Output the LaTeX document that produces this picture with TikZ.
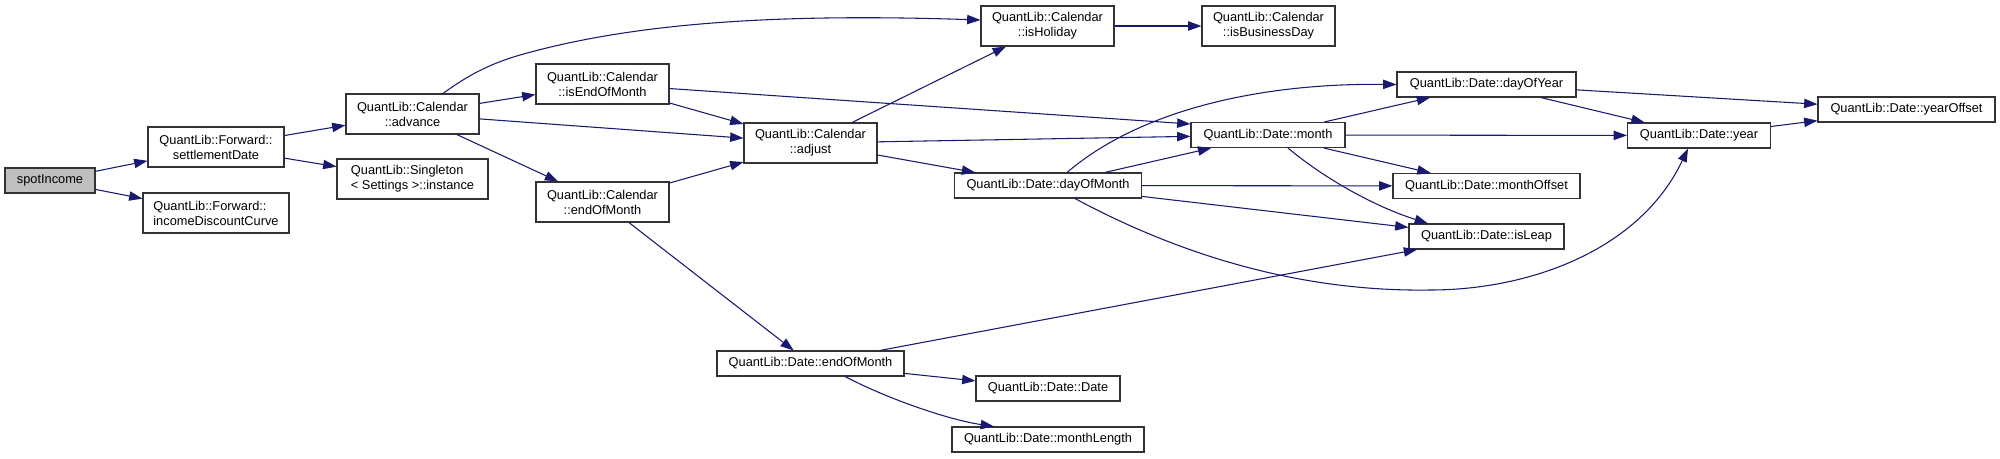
\documentclass[tikz,border=0pt]{standalone}
\usepackage{fontspec}
\setmainfont{Liberation Sans}
\usetikzlibrary{arrows.meta}
\definecolor{edgeblue}{HTML}{191970}
\definecolor{boxline}{HTML}{333333}
\definecolor{spotfill}{HTML}{BFBFBF}
\begin{document}
\begin{tikzpicture}[x=0.75pt,y=-0.75pt,
  box/.style={draw=boxline, line width=0.8pt, fill=white, inner sep=0pt,
    font=\fontsize{9.6}{11.25}\selectfont, align=center},
  wh/.style 2 args={minimum width=#1*0.75pt, minimum height=#2*0.75pt},
  call/.style={draw=edgeblue, line width=0.8pt, -{Triangle[length=10pt,width=7pt]}}]
\fill[white] (0,0) rectangle (2000,458);
\useasboundingbox (0,0) rectangle (2000,458);

\node[box, wh={90}{25}, fill=spotfill] (spot) at (50,180.5) {spotIncome};
\node[box, wh={136}{40}] (settle) at (216,147) {QuantLib::Forward::\\settlementDate};
\node[box, wh={146}{40}, align=left] (income) at (216,213) {QuantLib::Forward::\\incomeDiscountCurve};
\node[box, wh={133}{40}] (advance) at (412.5,114) {QuantLib::Calendar\\::advance};
\node[box, wh={151}{40}, align=left] (single) at (412.5,179) {QuantLib::Singleton\\< Settings >::instance};
\node[box, wh={133}{40}] (iseom) at (602.5,84) {QuantLib::Calendar\\::isEndOfMonth};
\node[box, wh={133}{40}] (caleom) at (602.5,202) {QuantLib::Calendar\\::endOfMonth};
\node[box, wh={133}{40}] (adjust) at (810.5,143) {QuantLib::Calendar\\::adjust};
\node[box, wh={133}{40}] (hol) at (1047.5,26) {QuantLib::Calendar\\::isHoliday};
\node[box, wh={133}{40}] (bday) at (1268.5,26) {QuantLib::Calendar\\::isBusinessDay};
\node[box, wh={154}{25}] (month) at (1268,135) {QuantLib::Date::month};
\node[box, wh={187}{25}] (dom) at (1048,185.5) {QuantLib::Date::dayOfMonth};
\node[box, wh={179}{25}] (doy) at (1486.5,84.5) {QuantLib::Date::dayOfYear};
\node[box, wh={187}{25}] (moff) at (1486.5,186) {QuantLib::Date::monthOffset};
\node[box, wh={155}{25}] (leap) at (1486.5,236.5) {QuantLib::Date::isLeap};
\node[box, wh={177}{25}] (yoff) at (1906.5,109.5) {QuantLib::Date::yearOffset};
\node[box, wh={143}{25}] (year) at (1699,135.5) {QuantLib::Date::year};
\node[box, wh={187}{25}] (deom) at (810.5,363.5) {QuantLib::Date::endOfMonth};
\node[box, wh={144}{25}] (date) at (1048,388.5) {QuantLib::Date::Date};
\node[box, wh={192}{25}] (mlen) at (1048,439.5) {QuantLib::Date::monthLength};

\draw[call] (spot) -- (settle);
\draw[call] (spot) -- (income);
\draw[call] (settle) -- (advance);
\draw[call] (settle) -- (single);
\draw[call] ([xshift=22.9pt]advance.north) .. controls (475,70) and (500,60) .. (531,52) .. controls (650,20) and (800,14) .. ([yshift=4.5pt]hol.west);
\draw[call] (advance) -- (iseom);
\draw[call] (advance) -- (adjust);
\draw[call] (advance) -- (caleom);
\draw[call] (iseom) -- (adjust);
\draw[call] (iseom) -- ([yshift=8.25pt]month.west);
\draw[call] (caleom) -- (adjust);
\draw[call] (caleom) -- (deom);
\draw[call] (adjust) -- (hol);
\draw[call] (adjust) -- (month);
\draw[call] (adjust) -- (dom);
\draw[call] (hol) -- (bday);
\draw[call] ([xshift=14.25pt]dom.north) .. controls (1140,110) and (1260,83) .. (doy.west);
\draw[call] (dom) -- (month);
\draw[call] (dom) -- (moff);
\draw[call] (dom) -- (leap);
\draw[call] ([xshift=20.25pt]dom.south) .. controls (1180,255) and (1300,292) .. (1430,290) .. controls (1530,290) and (1640,250) .. ([xshift=-8.25pt]year.south);
\draw[call] (month) -- (doy);
\draw[call] (month) -- (year);
\draw[call] (month) -- (moff);
\draw[call] ([xshift=15pt]month.south) .. controls (1320,175) and (1370,205) .. ([xshift=-43.9pt]leap.north);
\draw[call] (doy) -- (yoff);
\draw[call] (doy) -- (year);
\draw[call] (year) -- (yoff);
\draw[call] (deom) -- (leap);
\draw[call] (deom) -- (date);
\draw[call] ([xshift=25.9pt]deom.south) .. controls (890,400) and (950,420) .. ([xshift=-40.5pt]mlen.north);
\end{tikzpicture}
\end{document}
